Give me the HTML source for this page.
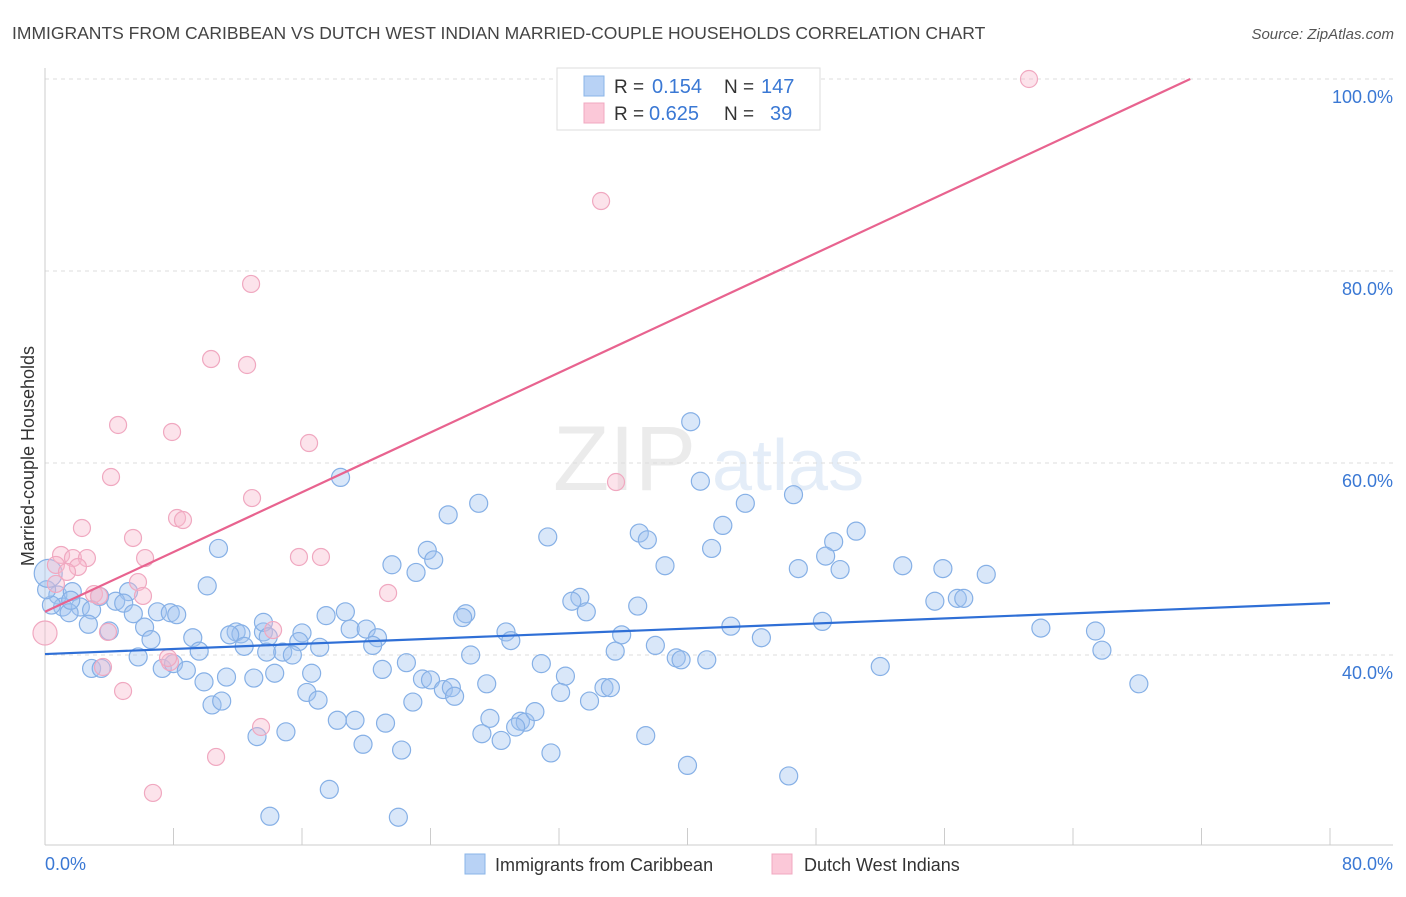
<!DOCTYPE html>
<html><head><meta charset="utf-8"><style>
body{margin:0;background:#fff;font-family:"Liberation Sans",sans-serif;}
svg text{font-family:"Liberation Sans",sans-serif;}
</style></head><body>
<svg id="chart" width="1406" height="892" xmlns="http://www.w3.org/2000/svg">
<text x="12" y="39" font-size="17.5" fill="#444">IMMIGRANTS FROM CARIBBEAN VS DUTCH WEST INDIAN MARRIED-COUPLE HOUSEHOLDS CORRELATION CHART</text>
<text x="1394" y="39" font-size="15" fill="#555" font-style="italic" text-anchor="end">Source: ZipAtlas.com</text>
<text transform="translate(34,456) rotate(-90)" font-size="18" fill="#333" text-anchor="middle">Married-couple Households</text>
<g opacity="0.45">
<text x="553" y="490" font-size="92" fill="#d5d5d5" font-family="Liberation Serif">ZIP</text>
<text x="712" y="490" font-size="72" fill="#c5d8f0">atlas</text>
</g>
<g id="grid"></g><g id="axes"></g><g id="pts"></g><g id="lines"></g>
<g>
<rect x="557" y="68" width="263" height="62" fill="#fff" stroke="#ddd"/>
<rect x="584" y="76" width="20" height="20" fill="#b8d2f5" stroke="#8ab4e8"/>
<rect x="584" y="103" width="20" height="20" fill="#fbc8d8" stroke="#f0a8c0"/>
<text x="614" y="93" font-size="19" fill="#333">R =</text>
<text x="652" y="93" font-size="20" fill="#3a78d4">0.154</text>
<text x="724" y="93" font-size="19" fill="#333">N =</text>
<text x="761" y="93" font-size="20" fill="#3a78d4">147</text>
<text x="614" y="120" font-size="19" fill="#333">R =</text>
<text x="649" y="120" font-size="20" fill="#3a78d4">0.625</text>
<text x="724" y="120" font-size="19" fill="#333">N =</text>
<text x="770" y="120" font-size="20" fill="#3a78d4">39</text>
</g>
<g>
<rect x="465" y="854" width="20" height="20" fill="#b8d2f5" stroke="#8ab4e8"/>
<text x="495" y="871" font-size="18" fill="#333">Immigrants from Caribbean</text>
<rect x="772" y="854" width="20" height="20" fill="#fbc8d8" stroke="#f0a8c0"/>
<text x="804" y="871" font-size="18" fill="#333">Dutch West Indians</text>
</g>
</svg>
<script>
const xTicks=[0,8,16,24,32,40,48,56,64,72,80];
const yTicks=[40,60,80,100];
const yTickLabels=["40.0%","60.0%","80.0%","100.0%"];
const blueX=[40.2,18.4,40.8,27.0,46.6,43.6,25.1,42.2,50.5,37.0,31.3,37.5,49.1,10.8,23.8,41.5,48.6,24.2,21.6,38.6,46.9,49.5,53.4,55.9,58.6,23.1,10.1,5.2,0.8,1.7,3.4,4.4,4.9,1.1,2.2,1.5,5.5,7.0,7.8,8.2,2.9,33.3,32.8,33.7,36.9,26.2,26.0,17.5,18.7,56.8,57.2,55.4,48.4,42.7,62.0,65.4,44.6,35.9,28.7,29.0,19.0,20.0,20.7,16.0,13.6,11.9,12.2,11.5,12.4,2.7,4.0,6.2,9.2,6.6,13.6,13.9,15.8,13.8,14.8,15.4,17.1,20.4,38.0,35.5,9.6,5.8,26.5,39.3,39.6,41.2,65.8,2.9,7.3,8.0,8.8,9.9,11.3,13.0,14.3,16.6,21.0,22.5,30.9,32.4,52.0,68.1,23.5,24.0,16.3,17.0,10.4,11.0,24.8,25.3,25.5,27.5,32.1,34.8,35.2,33.9,22.9,18.2,19.3,21.2,27.7,29.6,29.9,30.5,29.3,27.2,28.4,37.4,15.0,13.2,19.8,22.2,31.5,40.0,46.3,17.7,14.0,22.0,3.5,0.4,1.6,0.1,0.2];
const blueY=[64.3,58.5,58.1,55.8,56.7,55.8,54.6,53.5,52.9,52.7,52.3,52.0,51.8,51.1,50.9,51.1,50.3,49.9,49.4,49.3,49.0,48.9,49.3,49.0,48.4,48.6,47.2,46.6,46.25,46.6,46.1,45.6,45.4,45.0,45.0,44.4,44.3,44.5,44.4,44.2,44.7,46.0,45.6,44.5,45.1,44.3,43.9,44.1,44.5,45.9,45.9,45.6,43.5,43.0,42.8,42.5,41.8,42.1,42.4,41.5,42.7,42.7,41.8,42.3,42.4,42.4,42.2,42.1,40.9,43.2,42.5,42.9,41.8,41.6,43.4,41.9,41.4,40.3,40.3,40.0,40.8,41.0,41.0,40.4,40.4,39.8,40.0,39.7,39.5,39.5,40.5,38.6,38.6,39.1,38.4,37.2,37.7,37.6,38.1,38.1,38.5,39.2,39.1,37.8,38.8,37.0,37.5,37.4,36.1,35.3,34.8,35.2,36.4,36.6,35.7,37.0,36.1,36.6,36.6,35.2,35.1,33.2,33.2,32.9,33.4,33.1,33.0,34.1,32.5,31.8,31.1,31.6,32.0,31.5,30.7,30.1,29.8,28.5,27.4,26.0,23.2,23.1,38.6,45.2,45.7,46.8,48.5];
const pinkX=[61.26,34.62,12.83,10.34,12.58,4.55,7.91,16.44,4.11,35.55,12.89,8.22,8.59,2.30,5.48,6.23,1.0,1.74,2.61,15.81,17.18,0.68,2.05,1.37,5.79,3.05,3.36,6.1,21.36,0.68,0,3.92,14.2,7.78,3.61,4.86,13.45,10.65,6.72,7.66];
const pinkY=[100,87.29,78.65,70.83,70.21,63.96,63.23,62.08,58.54,58.02,56.35,54.27,54.06,53.23,52.19,50.1,50.42,50.1,50.1,50.21,50.21,49.38,49.17,48.65,47.6,46.35,46.15,46.15,46.46,47.4,42.29,42.4,42.6,39.27,38.75,36.25,32.5,29.38,25.63,39.69];
const blueTrend=[0,40.1,80,45.4];
const pinkTrend=[0,44.5,71.3,100];
const NS="http://www.w3.org/2000/svg";
const X0=45,X1=1330,YT=79;
function sx(v){return X0+(v/80)*(X1-X0);}
function sy(v){return YT+(100-v)*9.6;}
function mk(t,a,p){const e=document.createElementNS(NS,t);for(const k in a)e.setAttribute(k,a[k]);p.appendChild(e);return e;}
const grid=document.getElementById('grid'),axes=document.getElementById('axes'),pts=document.getElementById('pts'),lines=document.getElementById('lines');
yTicks.forEach((t,i)=>{
 const l=mk('line',{x1:X0,x2:1393,y1:sy(t),y2:sy(t),stroke:'#ddd','stroke-dasharray':'4,4'},grid);
 
 
 const tx=mk('text',{x:1393,y:sy(t)+24,'font-size':18,fill:'#3a78d4','text-anchor':'end'},axes);
 tx.textContent=yTickLabels[i];
 
 
});
const ya=mk('line',{x1:X0,x2:X0,y1:68,y2:845,stroke:'#ccc'},axes);


const xa=mk('line',{x1:X0,x2:1393,y1:845,y2:845,stroke:'#ccc'},axes);


xTicks.forEach(t=>{
 const l=mk('line',{x1:sx(t),x2:sx(t),y1:828,y2:845,stroke:'#ccc'},axes);
 
 
});
const xl0=mk('text',{x:45,y:870,'font-size':18,fill:'#3a78d4'},axes);xl0.textContent='0.0%';


const xl1=mk('text',{x:1393,y:870,'font-size':18,fill:'#3a78d4','text-anchor':'end'},axes);xl1.textContent='80.0%';


blueX.forEach((v,i)=>{
 const big=(i===blueX.length-1)?14:9;
 const c=mk('circle',{cx:sx(v),cy:sy(blueY[i]),r:big,fill:'rgba(160,195,240,0.4)',stroke:'#86b0e6','stroke-width':1.2},pts);
 
 
});
pinkX.forEach((v,i)=>{
 const big=(i===30)?12:8.5;
 const c=mk('circle',{cx:sx(v),cy:sy(pinkY[i]),r:big,fill:'rgba(248,185,205,0.4)',stroke:'#f0a8c0','stroke-width':1.2},pts);
 
 
});
const bl=mk('line',{x1:sx(blueTrend[0]),y1:sy(blueTrend[1]),x2:sx(blueTrend[2]),y2:sy(blueTrend[3]),stroke:'#2f6fd6','stroke-width':2.2},lines);


const pl=mk('line',{x1:sx(pinkTrend[0]),y1:sy(pinkTrend[1]),x2:sx(pinkTrend[2]),y2:sy(pinkTrend[3]),stroke:'#e8638f','stroke-width':2.2},lines);


</script>
</body></html>
